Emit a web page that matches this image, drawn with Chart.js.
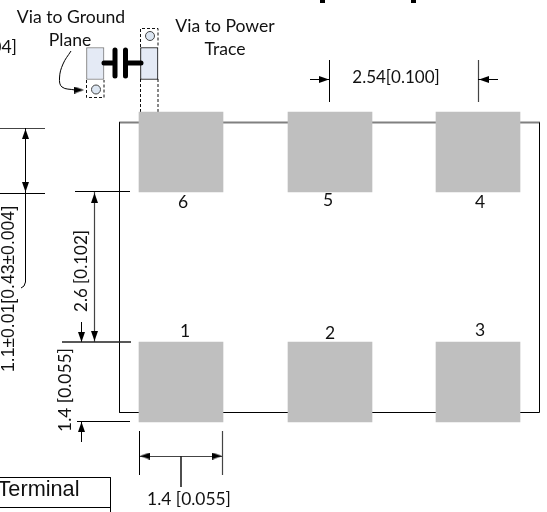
<!DOCTYPE html>
<html>
<head>
<meta charset="utf-8">
<style>
  html, body { margin: 0; padding: 0; background: #fff; overflow: hidden; }
  canvas { display: block; }
</style>
<script src="https://cdn.jsdelivr.net/npm/chart.js@4"></script>
</head>
<body>
<canvas id="drawing" width="547" height="512"></canvas>
<script>
const padCentersX = [181, 330, 478];
const padRowsY = [[112, 192], [342, 422]];

const outlineBlack = [[[119.5, 122.5], [119.5, 412.5], [539.5, 412.5], [539.5, 122.5]]];
const outlineGray = [[[119, 122.5], [540, 122.5]]];

// dimension lines
const dimBlack = [
  [[0, 193.5], [45, 193.5]],
  [[25.5, 128], [25.5, 282], [24, 286], [21, 288]],
  [[75, 191.5], [130, 191.5]],
  [[81.5, 322], [81.5, 342]],
  [[77, 421.5], [130, 421.5]],
  [[81.5, 422], [81.5, 442]],
  [[139.5, 431], [139.5, 475]],
  [[329.5, 60], [329.5, 102]],
  [[310, 79.5], [329, 79.5]],
  [[498, 79.5], [478, 79.5]],
  [[0, 477.5], [110.5, 477.5], [110.5, 512]],
  [[0, 507.5], [110.5, 507.5]]
];
const dimGray = [
  [[0, 128.5], [45, 128.5]],
  [[94.5, 192], [94.5, 342]],
  [[222.5, 431], [222.5, 475]],
  [[140, 456.5], [222, 456.5]],
  [[478.5, 60], [478.5, 102]]
];
const dimHeavy = [
  [[62, 342], [131, 342]],
  [[181, 456], [181, 487]]
];

// arrow heads: centre x, centre y, rotation
const arrowHeads = [
  [25.5, 134, 0], [25.5, 187, 180],
  [94.5, 198, 0], [94.5, 336, 180],
  [81.5, 337, 180], [81.5, 427, 0],
  [145, 456, 270], [217, 456, 90],
  [324, 79.5, 90], [484, 79.5, 270],
  [79, 90, 90]
];

// capacitor sketch
const capPadLeft = [{ x: 95.25, y: [47.5, 79.5] }];
const capPadRight = [{ x: 149.25, y: [47.5, 79.5] }];
const capDashed = [
  [[140.5, 47], [140.5, 28.5], [158, 28.5], [158, 47]],
  [[140.5, 79], [140.5, 112]],
  [[158, 79], [158, 112]],
  [[86.5, 80], [86.5, 97.5], [104, 97.5], [104, 80]]
];
const capWires = [
  [[104, 63], [115, 63]],
  [[125.5, 63], [141, 63]],
  [[115, 50], [115, 76]],
  [[125.5, 50], [125.5, 76]]
];
const viaCircles = [[150, 36], [96, 89.5]];
const curvedArrow = [[71, 51], [63, 64], [59.5, 78], [62, 87], [75, 90]];
const titleTails = [[[320, 0.5], [325, 0.5]], [[411, 0.5], [416, 0.5]]];

const calibri = '"Lato"';
const arial = '"Liberation Sans"';
// text, x, y, rotation, size, family
const labels = [
  ['Via to Ground', 71, 17, 0, 17.6, calibri],
  ['Plane', 70, 40, 0, 17.6, calibri],
  ['Via to Power', 225, 26, 0, 17.6, calibri],
  ['Trace', 225, 49, 0, 17.6, calibri],
  ['2.54[0.100]', 396, 78, 0, 17, calibri],
  ['6', 183, 202, 0, 17.5, calibri],
  ['5', 328, 200, 0, 17.5, calibri],
  ['4', 480, 202, 0, 17.5, calibri],
  ['1', 185, 331, 0, 17.5, calibri],
  ['2', 330, 333, 0, 17.5, calibri],
  ['3', 480, 330, 0, 17.5, calibri],
  ['2.6 [0.102]', 82, 271, -90, 17, calibri],
  ['1.4 [0.055]', 65, 390, -90, 17.4, calibri],
  ['1.4 [0.055]', 189, 499, 0, 17.4, calibri],
  ['1.1±0.01[0.43±0.004]', 9, 289, -90, 17.6, arial],
  ['Terminal', 38.5, 490, 0, 21.7, arial]
];
const cutLabel = ['004]', 17, 47, 0, 17.6, calibri];

const padBars = [];
padRowsY.forEach(row => padCentersX.forEach(x => padBars.push({ x: x, y: row })));

// polylines -> one point list, with gaps between the pieces
function flatten(lines) {
  const out = [];
  lines.forEach(line => {
    line.forEach(p => out.push({ x: p[0], y: p[1] }));
    out.push({ x: NaN, y: NaN });
  });
  return out;
}

function lineSet(lines, color, width, extra) {
  return Object.assign({
    type: 'scatter',
    data: flatten(lines),
    showLine: true,
    borderColor: color,
    borderWidth: width,
    pointRadius: 0,
    order: 1
  }, extra || {});
}

function capPadSet(data, color) {
  return {
    type: 'bar',
    data: data,
    grouped: false,
    barThickness: 17.5,
    backgroundColor: '#e4eaf5',
    borderColor: color,
    borderWidth: 1,
    borderSkipped: false,
    order: 2
  };
}

// narrow arrow head used as the point style
const head = document.createElement('canvas');
head.width = 7;
head.height = 10;
const hc = head.getContext('2d');
hc.fillStyle = '#000';
hc.beginPath();
hc.moveTo(3.5, 0);
hc.lineTo(7, 10);
hc.lineTo(0, 10);
hc.closePath();
hc.fill();

const textPlugin = {
  id: 'textPlugin',
  afterDraw(chart) {
    const ctx = chart.ctx;
    const xs = chart.scales.x;
    const ys = chart.scales.y;
    ctx.save();
    ctx.fillStyle = '#111';
    ctx.textBaseline = 'middle';
    labels.concat([cutLabel]).forEach(l => {
      ctx.save();
      ctx.translate(xs.getPixelForValue(l[1]), ys.getPixelForValue(l[2]));
      ctx.rotate(l[3] * Math.PI / 180);
      ctx.textAlign = l === cutLabel ? 'right' : 'center';
      ctx.font = l[4] + 'px ' + l[5];
      ctx.fillText(l[0], 0, 0);
      ctx.restore();
    });
    ctx.restore();
  }
};

new Chart(document.getElementById('drawing').getContext('2d'), {
  type: 'scatter',
  data: {
    datasets: [
      lineSet(capWires, '#000', 5, { borderCapStyle: 'round' }),
      lineSet(titleTails, '#000', 5),
      {
        type: 'scatter',
        data: arrowHeads.map(a => ({ x: a[0], y: a[1] })),
        pointStyle: head,
        pointRotation: arrowHeads.map(a => a[2]),
        pointRadius: 4,
        order: 0
      },
      {
        type: 'scatter',
        data: viaCircles.map(v => ({ x: v[0], y: v[1] })),
        pointStyle: 'circle',
        pointRadius: 4.5,
        backgroundColor: '#dce6f2',
        borderColor: '#444',
        borderWidth: 1,
        order: 1
      },
      lineSet([curvedArrow], '#000', 1, { tension: 0.4 }),
      lineSet(dimHeavy, '#222', 1.6),
      lineSet(dimBlack, '#000', 1),
      lineSet(dimGray, '#444', 1.2),
      lineSet(capDashed, '#111', 1, { borderDash: [3, 2], order: 4 }),
      capPadSet(capPadLeft, '#777'),
      capPadSet(capPadRight, '#000'),
      {
        type: 'bar',
        data: padBars,
        grouped: false,
        barThickness: 84,
        backgroundColor: '#bfbfbf',
        borderWidth: 0,
        order: 3
      },
      lineSet(outlineBlack, '#000', 1, { order: 5 }),
      lineSet(outlineGray, '#808080', 2, { order: 5 })
    ]
  },
  options: {
    responsive: false,
    animation: false,
    layout: { padding: 0, autoPadding: false },
    plugins: { legend: { display: false }, tooltip: { enabled: false } },
    events: [],
    scales: {
      x: { type: 'linear', min: 0, max: 547, display: false, offset: false, grid: { offset: false } },
      y: { type: 'linear', min: 0, max: 512, reverse: true, display: false, offset: false }
    }
  },
  plugins: [textPlugin]
});
</script>
</body>
</html>
